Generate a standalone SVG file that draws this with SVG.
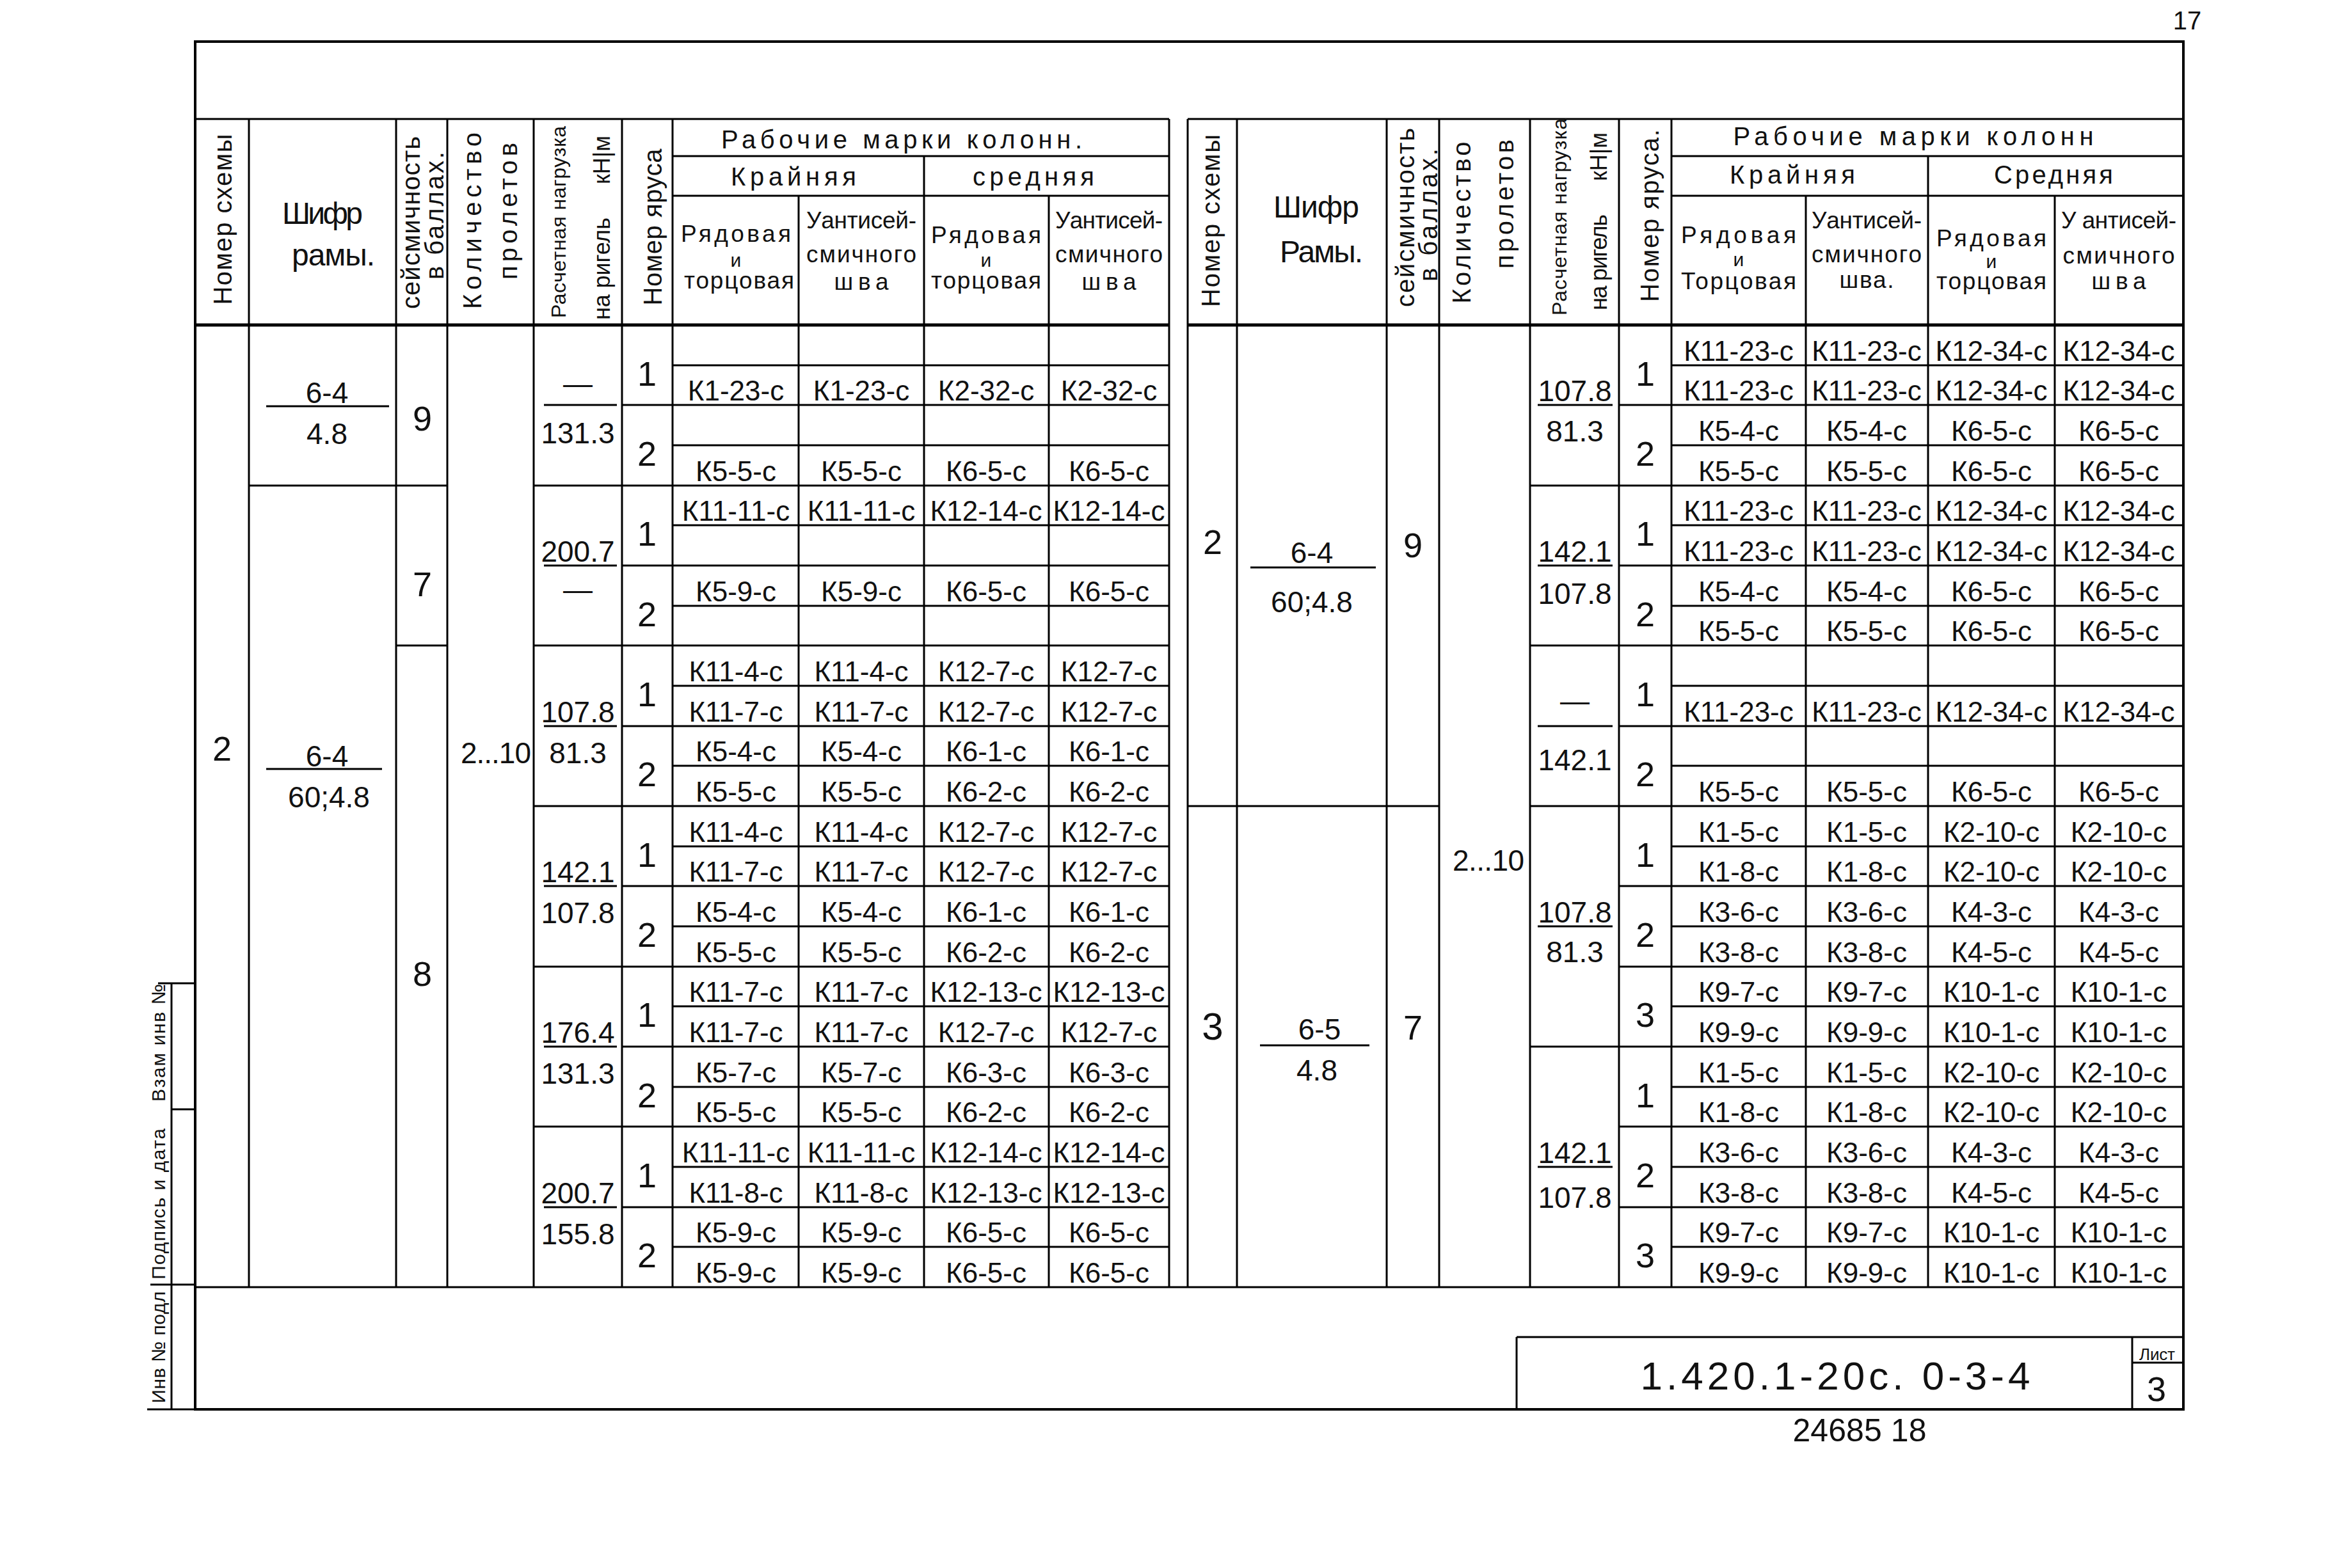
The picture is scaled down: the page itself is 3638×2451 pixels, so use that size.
<svg xmlns="http://www.w3.org/2000/svg" width="3638" height="2451" viewBox="0 0 3638 2451">
<style>
text{font-family:"Liberation Sans",Arial,sans-serif;fill:#111}
.m{font-size:44px;text-anchor:middle}
.n{font-size:46px;text-anchor:middle}
.d{font-size:54px;text-anchor:middle}
.h{font-size:40px;text-anchor:middle}
.h2{font-size:37px;text-anchor:middle}
.i{font-size:30px;text-anchor:middle}
.v{font-size:40px;text-anchor:middle}
.vs{font-size:32px;text-anchor:middle}
.vr{font-size:36px;text-anchor:middle}
.s{font-size:30px;text-anchor:middle}
.ln{stroke:#000;stroke-width:3;fill:none}
.tk{stroke:#000;stroke-width:5;fill:none}
</style>
<rect width="3638" height="2451" fill="#fff"/>

<g id="frame">
<rect x="305" y="65" width="3107" height="2138" class="ln" style="stroke-width:4"/>
<path class="ln" d="M305 2012H3412"/>
<path class="ln" d="M268 1537V2203 M247 1537H305 M268 1734H305 M235 2008H305 M230 2203H305"/>
<text class="s" transform="translate(258,2106) rotate(-90)" textLength="175">Инв № подл</text>
<text class="s" transform="translate(258,1882) rotate(-90)" textLength="236">Подпись и дата</text>
<text class="s" transform="translate(258,1630) rotate(-90)" textLength="184">Взам инв №</text>
<text class="h" x="3418" y="46">17</text>
</g>

<g id="left-table-grid">
<path class="ln" d="M305 186H1827 M1051 244H1827 M1051 306H1827"/>
<path class="tk" d="M305 508H1827"/>
<path class="ln" d="M389 186V2012 M619 186V2012 M699 186V2012 M834 186V2012 M972 186V2012 M1051 186V2012 M1248 306V2012 M1444 244V2012 M1639 306V2012 M1827 186V2012"/>
<path class="ln" d="M1051 571H1827 M1051 696H1827 M1051 821H1827 M1051 947H1827 M1051 1072H1827 M1051 1197H1827 M1051 1323H1827 M1051 1448H1827 M1051 1573H1827 M1051 1699H1827 M1051 1824H1827 M1051 1949H1827"/>
<path class="ln" d="M972 633H1827 M972 884H1827 M972 1135H1827 M972 1385H1827 M972 1636H1827 M972 1887H1827"/>
<path class="ln" d="M389 759H699 M834 759H1827 M619 1009H699 M834 1009H1827 M834 1260H1827 M834 1511H1827 M834 1761H1827"/>
<path class="ln" d="M850 633H964 M850 884H964 M850 1135H964 M850 1385H964 M850 1636H964 M850 1887H964 M416 635H608 M416 1202H597"/>
</g>

<g id="right-table-grid">
<path class="ln" d="M1856 186H3412 M2612 244H3412 M2612 306H3412"/>
<path class="tk" d="M1856 508H3412"/>
<path class="ln" d="M1856 186V2012 M1933 186V2012 M2167 186V2012 M2249 186V2012 M2391 186V2012 M2530 186V2012 M2612 186V2012 M2822 306V2012 M3013 244V2012 M3211 306V2012"/>
<path class="ln" d="M2612 571H3412 M2612 696H3412 M2612 821H3412 M2612 947H3412 M2612 1072H3412 M2612 1197H3412 M2612 1323H3412 M2612 1448H3412 M2612 1573H3412 M2612 1699H3412 M2612 1824H3412 M2612 1949H3412"/>
<path class="ln" d="M2530 633H3412 M2530 884H3412 M2530 1135H3412 M2530 1385H3412 M2530 1511H3412 M2530 1761H3412 M2530 1887H3412"/>
<path class="ln" d="M2391 759H3412 M2391 1009H3412 M2391 1636H3412 M1856 1260H2249 M2391 1260H3412"/>
<path class="ln" d="M2403 633H2520 M2403 884H2520 M2403 1135H2520 M2403 1448H2520 M2403 1824H2520 M1954 887H2150 M1969 1634H2140"/>
</g>

<g id="left-header">
<text class="v" transform="translate(362,343) rotate(-90)" textLength="267">Номер схемы</text>
<text class="h" x="504" y="350" textLength="126" style="font-size:48px">Шифр</text>
<text class="h" x="521" y="415" textLength="130" style="font-size:48px">рамы.</text>
<text class="v" transform="translate(656,348) rotate(-90)" textLength="270">сейсмичность</text>
<text class="v" transform="translate(693,337) rotate(-90)" textLength="200">в баллах.</text>
<text class="v" transform="translate(752,345) rotate(-90)" textLength="276">Количество</text>
<text class="v" transform="translate(808,330) rotate(-90)" textLength="214">пролетов</text>
<text class="vs" transform="translate(884,347) rotate(-90)" textLength="300">Расчетная нагрузка</text>
<text class="vr" transform="translate(953,420) rotate(-90)" textLength="160">на ригель</text>
<text class="vr" transform="translate(953,250) rotate(-90)">кН|м</text>
<text class="v" transform="translate(1034,355) rotate(-90)" textLength="245">Номер яруса</text>
<text class="h" x="1409" y="232" textLength="564">Рабочие марки колонн.</text>
<text class="h" x="1240" y="290" textLength="196">Крайняя</text>
<text class="h" x="1615" y="290" textLength="190">средняя</text>
<text class="h2" x="1150" y="378" textLength="172">Рядовая</text>
<text class="i" x="1150" y="417">и</text>
<text class="h2" x="1155" y="451" textLength="172">торцовая</text>
<text class="h2" x="1346" y="357" textLength="172">Уантисей-</text>
<text class="h2" x="1346" y="410" textLength="172">смичного</text>
<text class="h2" x="1346" y="453" textLength="85">шва</text>
<text class="h2" x="1541" y="380" textLength="172">Рядовая</text>
<text class="i" x="1541" y="417">и</text>
<text class="h2" x="1541" y="451" textLength="172">торцовая</text>
<text class="h2" x="1733" y="357" textLength="168">Уантисей-</text>
<text class="h2" x="1733" y="410" textLength="168">смичного</text>
<text class="h2" x="1733" y="453" textLength="85">шва</text>
</g>

<g id="right-header">
<text class="v" transform="translate(1906,345) rotate(-90)" textLength="270">Номер схемы</text>
<text class="h" x="2057" y="340" textLength="134" style="font-size:48px">Шифр</text>
<text class="h" x="2065" y="410" textLength="130" style="font-size:48px">Рамы.</text>
<text class="v" transform="translate(2210,340) rotate(-90)" textLength="280">сейсмичность</text>
<text class="v" transform="translate(2246,336) rotate(-90)" textLength="208">в баллах.</text>
<text class="v" transform="translate(2298,348) rotate(-90)" textLength="253">Количество</text>
<text class="v" transform="translate(2365,319) rotate(-90)" textLength="202">пролетов</text>
<text class="vs" transform="translate(2448,339) rotate(-90)" textLength="308">Расчетная нагрузка</text>
<text class="vr" transform="translate(2511,410) rotate(-90)" textLength="150">на ригель</text>
<text class="vr" transform="translate(2511,245) rotate(-90)">кН|м</text>
<text class="v" transform="translate(2592,337) rotate(-90)" textLength="270">Номер яруса.</text>
<text class="h" x="2990" y="227" textLength="563">Рабочие марки колонн</text>
<text class="h" x="2801" y="287" textLength="196">Крайняя</text>
<text class="h" x="3209" y="287" textLength="186">Средняя</text>
<text class="h2" x="2717" y="380" textLength="180">Рядовая</text>
<text class="i" x="2717" y="416">и</text>
<text class="h2" x="2717" y="452" textLength="180">Торцовая</text>
<text class="h2" x="2917" y="357" textLength="172">Уантисей-</text>
<text class="h2" x="2917" y="410" textLength="172">смичного</text>
<text class="h2" x="2917" y="450" textLength="85">шва.</text>
<text class="h2" x="3112" y="385" textLength="172">Рядовая</text>
<text class="i" x="3112" y="419">и</text>
<text class="h2" x="3112" y="452" textLength="172">торцовая</text>
<text class="h2" x="3311" y="357" textLength="180">У антисей-</text>
<text class="h2" x="3311" y="412" textLength="175">смичного</text>
<text class="h2" x="3311" y="452" textLength="85">шва</text>
</g>

<g id="left-body">
<text class="d" x="347" y="1189">2</text>
<text class="n" x="511" y="630">6-4</text>
<text class="n" x="511" y="694">4.8</text>
<text class="n" x="511" y="1198">6-4</text>
<text class="n" x="514" y="1262">60;4.8</text>
<text class="d" x="660" y="673">9</text>
<text class="d" x="660" y="932">7</text>
<text class="d" x="660" y="1541">8</text>
<text class="n" x="775" y="1193" textLength="110">2...10</text>
<text class="n" x="903" y="615">—</text>
<text class="n" x="903" y="693">131.3</text>
<text class="n" x="903" y="878">200.7</text>
<text class="n" x="903" y="937">—</text>
<text class="n" x="903" y="1129">107.8</text>
<text class="n" x="903" y="1193">81.3</text>
<text class="n" x="903" y="1379">142.1</text>
<text class="n" x="903" y="1443">107.8</text>
<text class="n" x="903" y="1630">176.4</text>
<text class="n" x="903" y="1694">131.3</text>
<text class="n" x="903" y="1881">200.7</text>
<text class="n" x="903" y="1945">155.8</text>
<text class="d" x="1011" y="603">1</text>
<text class="d" x="1011" y="728">2</text>
<text class="d" x="1011" y="853">1</text>
<text class="d" x="1011" y="979">2</text>
<text class="d" x="1011" y="1104">1</text>
<text class="d" x="1011" y="1229">2</text>
<text class="d" x="1011" y="1355">1</text>
<text class="d" x="1011" y="1480">2</text>
<text class="d" x="1011" y="1605">1</text>
<text class="d" x="1011" y="1731">2</text>
<text class="d" x="1011" y="1856">1</text>
<text class="d" x="1011" y="1981">2</text>
</g>

<g id="left-marks">
<text class="m" x="1150" y="626">К1-23-с</text><text class="m" x="1346" y="626">К1-23-с</text><text class="m" x="1541" y="626">К2-32-с</text><text class="m" x="1733" y="626">К2-32-с</text>
<text class="m" x="1150" y="752">К5-5-с</text><text class="m" x="1346" y="752">К5-5-с</text><text class="m" x="1541" y="752">К6-5-с</text><text class="m" x="1733" y="752">К6-5-с</text>
<text class="m" x="1150" y="814">К11-11-с</text><text class="m" x="1346" y="814">К11-11-с</text><text class="m" x="1541" y="814">К12-14-с</text><text class="m" x="1733" y="814">К12-14-с</text>
<text class="m" x="1150" y="940">К5-9-с</text><text class="m" x="1346" y="940">К5-9-с</text><text class="m" x="1541" y="940">К6-5-с</text><text class="m" x="1733" y="940">К6-5-с</text>
<text class="m" x="1150" y="1065">К11-4-с</text><text class="m" x="1346" y="1065">К11-4-с</text><text class="m" x="1541" y="1065">К12-7-с</text><text class="m" x="1733" y="1065">К12-7-с</text>
<text class="m" x="1150" y="1128">К11-7-с</text><text class="m" x="1346" y="1128">К11-7-с</text><text class="m" x="1541" y="1128">К12-7-с</text><text class="m" x="1733" y="1128">К12-7-с</text>
<text class="m" x="1150" y="1190">К5-4-с</text><text class="m" x="1346" y="1190">К5-4-с</text><text class="m" x="1541" y="1190">К6-1-с</text><text class="m" x="1733" y="1190">К6-1-с</text>
<text class="m" x="1150" y="1253">К5-5-с</text><text class="m" x="1346" y="1253">К5-5-с</text><text class="m" x="1541" y="1253">К6-2-с</text><text class="m" x="1733" y="1253">К6-2-с</text>
<text class="m" x="1150" y="1316">К11-4-с</text><text class="m" x="1346" y="1316">К11-4-с</text><text class="m" x="1541" y="1316">К12-7-с</text><text class="m" x="1733" y="1316">К12-7-с</text>
<text class="m" x="1150" y="1378">К11-7-с</text><text class="m" x="1346" y="1378">К11-7-с</text><text class="m" x="1541" y="1378">К12-7-с</text><text class="m" x="1733" y="1378">К12-7-с</text>
<text class="m" x="1150" y="1441">К5-4-с</text><text class="m" x="1346" y="1441">К5-4-с</text><text class="m" x="1541" y="1441">К6-1-с</text><text class="m" x="1733" y="1441">К6-1-с</text>
<text class="m" x="1150" y="1504">К5-5-с</text><text class="m" x="1346" y="1504">К5-5-с</text><text class="m" x="1541" y="1504">К6-2-с</text><text class="m" x="1733" y="1504">К6-2-с</text>
<text class="m" x="1150" y="1566">К11-7-с</text><text class="m" x="1346" y="1566">К11-7-с</text><text class="m" x="1541" y="1566">К12-13-с</text><text class="m" x="1733" y="1566">К12-13-с</text>
<text class="m" x="1150" y="1629">К11-7-с</text><text class="m" x="1346" y="1629">К11-7-с</text><text class="m" x="1541" y="1629">К12-7-с</text><text class="m" x="1733" y="1629">К12-7-с</text>
<text class="m" x="1150" y="1692">К5-7-с</text><text class="m" x="1346" y="1692">К5-7-с</text><text class="m" x="1541" y="1692">К6-3-с</text><text class="m" x="1733" y="1692">К6-3-с</text>
<text class="m" x="1150" y="1754">К5-5-с</text><text class="m" x="1346" y="1754">К5-5-с</text><text class="m" x="1541" y="1754">К6-2-с</text><text class="m" x="1733" y="1754">К6-2-с</text>
<text class="m" x="1150" y="1817">К11-11-с</text><text class="m" x="1346" y="1817">К11-11-с</text><text class="m" x="1541" y="1817">К12-14-с</text><text class="m" x="1733" y="1817">К12-14-с</text>
<text class="m" x="1150" y="1880">К11-8-с</text><text class="m" x="1346" y="1880">К11-8-с</text><text class="m" x="1541" y="1880">К12-13-с</text><text class="m" x="1733" y="1880">К12-13-с</text>
<text class="m" x="1150" y="1942">К5-9-с</text><text class="m" x="1346" y="1942">К5-9-с</text><text class="m" x="1541" y="1942">К6-5-с</text><text class="m" x="1733" y="1942">К6-5-с</text>
<text class="m" x="1150" y="2005">К5-9-с</text><text class="m" x="1346" y="2005">К5-9-с</text><text class="m" x="1541" y="2005">К6-5-с</text><text class="m" x="1733" y="2005">К6-5-с</text>
</g>

<g id="right-body">
<text class="d" x="1895" y="866">2</text>
<text class="d" x="1895" y="1625" style="font-size:60px">3</text>
<text class="n" x="2050" y="880">6-4</text>
<text class="n" x="2050" y="957">60;4.8</text>
<text class="n" x="2062" y="1625">6-5</text>
<text class="n" x="2058" y="1689">4.8</text>
<text class="d" x="2208" y="871">9</text>
<text class="d" x="2208" y="1625">7</text>
<text class="n" x="2326" y="1361" textLength="112">2...10</text>
<text class="n" x="2461" y="627">107.8</text>
<text class="n" x="2461" y="690">81.3</text>
<text class="n" x="2461" y="878">142.1</text>
<text class="n" x="2461" y="944">107.8</text>
<text class="n" x="2461" y="1111">—</text>
<text class="n" x="2461" y="1204">142.1</text>
<text class="n" x="2461" y="1442">107.8</text>
<text class="n" x="2461" y="1504">81.3</text>
<text class="n" x="2461" y="1818">142.1</text>
<text class="n" x="2461" y="1888">107.8</text>
<text class="d" x="2571" y="603">1</text>
<text class="d" x="2571" y="728">2</text>
<text class="d" x="2571" y="853">1</text>
<text class="d" x="2571" y="979">2</text>
<text class="d" x="2571" y="1104">1</text>
<text class="d" x="2571" y="1229">2</text>
<text class="d" x="2571" y="1355">1</text>
<text class="d" x="2571" y="1480">2</text>
<text class="d" x="2571" y="1605">3</text>
<text class="d" x="2571" y="1731">1</text>
<text class="d" x="2571" y="1856">2</text>
<text class="d" x="2571" y="1981">3</text>
</g>

<g id="right-marks">
<text class="m" x="2717" y="564">К11-23-с</text><text class="m" x="2917" y="564">К11-23-с</text><text class="m" x="3112" y="564">К12-34-с</text><text class="m" x="3311" y="564">К12-34-с</text>
<text class="m" x="2717" y="626">К11-23-с</text><text class="m" x="2917" y="626">К11-23-с</text><text class="m" x="3112" y="626">К12-34-с</text><text class="m" x="3311" y="626">К12-34-с</text>
<text class="m" x="2717" y="689">К5-4-с</text><text class="m" x="2917" y="689">К5-4-с</text><text class="m" x="3112" y="689">К6-5-с</text><text class="m" x="3311" y="689">К6-5-с</text>
<text class="m" x="2717" y="752">К5-5-с</text><text class="m" x="2917" y="752">К5-5-с</text><text class="m" x="3112" y="752">К6-5-с</text><text class="m" x="3311" y="752">К6-5-с</text>
<text class="m" x="2717" y="814">К11-23-с</text><text class="m" x="2917" y="814">К11-23-с</text><text class="m" x="3112" y="814">К12-34-с</text><text class="m" x="3311" y="814">К12-34-с</text>
<text class="m" x="2717" y="877">К11-23-с</text><text class="m" x="2917" y="877">К11-23-с</text><text class="m" x="3112" y="877">К12-34-с</text><text class="m" x="3311" y="877">К12-34-с</text>
<text class="m" x="2717" y="940">К5-4-с</text><text class="m" x="2917" y="940">К5-4-с</text><text class="m" x="3112" y="940">К6-5-с</text><text class="m" x="3311" y="940">К6-5-с</text>
<text class="m" x="2717" y="1002">К5-5-с</text><text class="m" x="2917" y="1002">К5-5-с</text><text class="m" x="3112" y="1002">К6-5-с</text><text class="m" x="3311" y="1002">К6-5-с</text>
<text class="m" x="2717" y="1128">К11-23-с</text><text class="m" x="2917" y="1128">К11-23-с</text><text class="m" x="3112" y="1128">К12-34-с</text><text class="m" x="3311" y="1128">К12-34-с</text>
<text class="m" x="2717" y="1253">К5-5-с</text><text class="m" x="2917" y="1253">К5-5-с</text><text class="m" x="3112" y="1253">К6-5-с</text><text class="m" x="3311" y="1253">К6-5-с</text>
<text class="m" x="2717" y="1316">К1-5-с</text><text class="m" x="2917" y="1316">К1-5-с</text><text class="m" x="3112" y="1316">К2-10-с</text><text class="m" x="3311" y="1316">К2-10-с</text>
<text class="m" x="2717" y="1378">К1-8-с</text><text class="m" x="2917" y="1378">К1-8-с</text><text class="m" x="3112" y="1378">К2-10-с</text><text class="m" x="3311" y="1378">К2-10-с</text>
<text class="m" x="2717" y="1441">К3-6-с</text><text class="m" x="2917" y="1441">К3-6-с</text><text class="m" x="3112" y="1441">К4-3-с</text><text class="m" x="3311" y="1441">К4-3-с</text>
<text class="m" x="2717" y="1504">К3-8-с</text><text class="m" x="2917" y="1504">К3-8-с</text><text class="m" x="3112" y="1504">К4-5-с</text><text class="m" x="3311" y="1504">К4-5-с</text>
<text class="m" x="2717" y="1566">К9-7-с</text><text class="m" x="2917" y="1566">К9-7-с</text><text class="m" x="3112" y="1566">К10-1-с</text><text class="m" x="3311" y="1566">К10-1-с</text>
<text class="m" x="2717" y="1629">К9-9-с</text><text class="m" x="2917" y="1629">К9-9-с</text><text class="m" x="3112" y="1629">К10-1-с</text><text class="m" x="3311" y="1629">К10-1-с</text>
<text class="m" x="2717" y="1692">К1-5-с</text><text class="m" x="2917" y="1692">К1-5-с</text><text class="m" x="3112" y="1692">К2-10-с</text><text class="m" x="3311" y="1692">К2-10-с</text>
<text class="m" x="2717" y="1754">К1-8-с</text><text class="m" x="2917" y="1754">К1-8-с</text><text class="m" x="3112" y="1754">К2-10-с</text><text class="m" x="3311" y="1754">К2-10-с</text>
<text class="m" x="2717" y="1817">К3-6-с</text><text class="m" x="2917" y="1817">К3-6-с</text><text class="m" x="3112" y="1817">К4-3-с</text><text class="m" x="3311" y="1817">К4-3-с</text>
<text class="m" x="2717" y="1880">К3-8-с</text><text class="m" x="2917" y="1880">К3-8-с</text><text class="m" x="3112" y="1880">К4-5-с</text><text class="m" x="3311" y="1880">К4-5-с</text>
<text class="m" x="2717" y="1942">К9-7-с</text><text class="m" x="2917" y="1942">К9-7-с</text><text class="m" x="3112" y="1942">К10-1-с</text><text class="m" x="3311" y="1942">К10-1-с</text>
<text class="m" x="2717" y="2005">К9-9-с</text><text class="m" x="2917" y="2005">К9-9-с</text><text class="m" x="3112" y="2005">К10-1-с</text><text class="m" x="3311" y="2005">К10-1-с</text>
</g>

<g id="stamp">
<path class="ln" d="M2370 2090H3412 M2370 2090V2203 M3332 2090V2203 M3332 2130H3412"/>
<text class="h" x="2868" y="2172" textLength="609" style="font-size:62px">1.420.1-20с. 0-3-4</text>
<text class="h" x="3371" y="2126" textLength="56" style="font-size:26px">Лист</text>
<text class="h" x="3370" y="2190" style="font-size:54px">3</text>
<text class="h" x="2906" y="2253" textLength="209" style="font-size:50px">24685 18</text>
</g>
</svg>
